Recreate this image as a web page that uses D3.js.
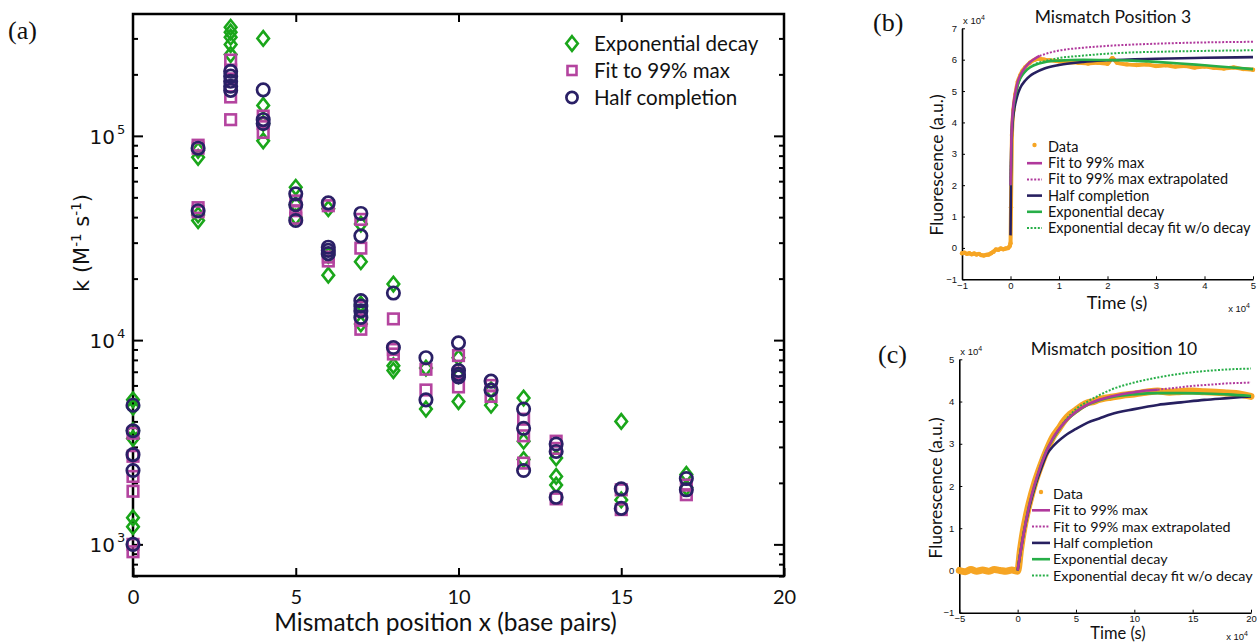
<!DOCTYPE html>
<html>
<head>
<meta charset="utf-8">
<script src="https://cdn.jsdelivr.net/npm/d3@7"></script>
<style>
  body { margin: 0; background: #fff; }
  svg { display: block; }
  text { font-family: Lato, "Open Sans", sans-serif; fill: #111; }
</style>
</head>
<body>
<svg id="fig" width="1257" height="642"></svg>
<script>
// ---------- (a) hybridisation rate constants k (M^-1 s^-1) vs mismatch position ----------
const expDecay = [
  [0,5100],[0,4700],[0,3600],[0,3300],[0,1350],[0,1220],
  [2,85000],[2,78500],[2,41000],[2,38500],
  [3,340000],[3,322000],[3,304000],[3,280000],[3,250000],
  [4,300000],[4,141000],[4,115000],[4,94500],
  [5,56000],[5,46000],[5,40000],
  [6,44000],[6,26000],[6,20800],
  [7,37000],[7,24200],[7,15000],[7,12000],
  [8,18800],[8,7500],[8,7100],
  [9,7300],[9,4600],
  [10,8200],[10,6700],[10,5000],
  [11,5700],[11,4800],
  [12,5200],[12,3200],[12,2600],
  [13,2650],[13,2150],[13,1950],
  [15,4000],[15,1650],
  [17,2200],[17,1900]
];
const fit99 = [
  [0,3500],[0,2700],[0,2150],[0,1820],[0,1000],[0,920],
  [2,90000],[2,87000],[2,44500],[2,42500],
  [3,235000],[3,210000],[3,190000],[3,175000],[3,155000],[3,120000],
  [4,125000],[4,115000],[4,104000],
  [5,48000],[5,43000],[5,39500],
  [6,45500],[6,25500],[6,24400],
  [7,39000],[7,28200],[7,14500],[7,12500],[7,11300],
  [8,12700],[8,9000],[8,8550],
  [9,7200],[9,5700],
  [10,8400],[10,6900],[10,5900],
  [11,6000],[11,5300],
  [12,4100],[12,3400],[12,2500],
  [13,3200],[13,2950],[13,1670],
  [15,1850],[15,1480],
  [17,1950],[17,1750]
];
const halfCompletion = [
  [0,4800],[0,3600],[0,2750],[0,2300],[0,1000],
  [2,87000],[2,43000],
  [3,207000],[3,196000],[3,185000],[3,175000],[3,167000],
  [4,168000],[4,120000],[4,115000],
  [5,52000],[5,46000],[5,38500],
  [6,47000],[6,28500],[6,27500],[6,26500],
  [7,41700],[7,32400],[7,15600],[7,14700],[7,13900],[7,12900],
  [8,17000],[8,9200],
  [9,8200],[9,5100],
  [10,9700],[10,7100],[10,6800],[10,6600],
  [11,6300],[11,5700],
  [12,4600],[12,3700],[12,2300],
  [13,3100],[13,2850],[13,1700],
  [15,1870],[15,1500],
  [17,2100],[17,1850]
];
const xTicksA = [0, 5, 10, 15, 20];
const yMajorA = [1e3, 1e4, 1e5];
const legendA = ["Exponential decay", "Fit to 99% max", "Half completion"];

// ---------- (b) fluorescence trace, mismatch position 3 (time and signal in units of 10^4) ----------
const dataB = [
  [-1,-0.17],[-0.95,-0.15],[-0.9,-0.19],[-0.85,-0.17],[-0.8,-0.2],[-0.75,-0.18],[-0.7,-0.21],
  [-0.65,-0.19],[-0.6,-0.23],[-0.55,-0.24],[-0.5,-0.22],[-0.45,-0.21],[-0.4,-0.17],[-0.35,-0.12],
  [-0.3,-0.05],[-0.25,-0.06],[-0.2,-0.02],[-0.15,-0.04],[-0.1,-0.02],[-0.05,0.0],[-0.02,0.05],[0,0.15],
  [0.01,1.3],[0.03,3.6],[0.06,4.4],[0.1,4.9],[0.15,5.3],[0.2,5.5],[0.25,5.65],[0.3,5.75],[0.4,5.9],
  [0.5,6.0],[0.6,6.03],[0.7,6.0],[0.8,5.98],[1.0,5.95],[1.2,5.92],[1.4,5.9],[1.6,5.88],[1.8,5.9],
  [2.0,5.87],[2.1,6.05],[2.2,5.9],[2.4,5.85],[2.6,5.83],[2.8,5.85],[3.0,5.8],[3.2,5.82],[3.4,5.78],
  [3.6,5.8],[3.8,5.75],[4.0,5.78],[4.2,5.74],[4.4,5.72],[4.6,5.75],[4.8,5.7],[5.0,5.68]
];
const fit99B = [[0,2.0],[0.02,3.6],[0.05,4.4],[0.1,4.95],[0.15,5.3],[0.2,5.5],[0.3,5.75],[0.4,5.92],[0.5,6.03],[0.6,6.12]];
const fit99ExtB = [[0.6,6.12],[0.8,6.22],[1,6.29],[1.5,6.38],[2,6.44],[2.5,6.48],[3,6.51],[4,6.55],[5,6.57]];
const halfB = [[0,0.4],[0.01,2.2],[0.02,3.2],[0.04,3.9],[0.07,4.35],[0.1,4.6],[0.15,4.9],[0.2,5.1],[0.3,5.33],
  [0.4,5.48],[0.5,5.58],[0.7,5.72],[1,5.83],[1.5,5.93],[2,5.98],[3,6.03],[4,6.06],[5,6.08]];
const expB = [[0,2.0],[0.02,3.5],[0.05,4.3],[0.1,4.85],[0.15,5.2],[0.2,5.4],[0.3,5.62],[0.4,5.75],[0.5,5.83],
  [0.7,5.92],[1,5.97],[1.5,6.0],[2,5.99],[2.5,5.97],[3,5.93],[3.5,5.88],[4,5.82],[4.5,5.76],[5,5.7]];
const expNoDecayB = [[0,2.0],[0.02,3.5],[0.05,4.3],[0.1,4.85],[0.15,5.2],[0.2,5.4],[0.3,5.62],[0.4,5.75],
  [0.5,5.85],[0.7,5.95],[1,6.05],[1.5,6.13],[2,6.19],[2.5,6.23],[3,6.25],[4,6.28],[5,6.3]];

// ---------- (c) fluorescence trace, mismatch position 10 ----------
const dataC = [
  [-5,0.0],[-4.5,-0.03],[-4,0.02],[-3.5,-0.02],[-3,0.01],[-2.5,-0.02],[-2,0.02],[-1.5,0.0],[-1,-0.02],
  [-0.5,0.01],[0,-0.02],[0.25,0.5],[0.5,0.95],[0.75,1.3],[1,1.6],[1.5,2.1],[2,2.5],[2.5,2.85],[3,3.15],
  [3.5,3.35],[4,3.55],[4.5,3.7],[5,3.8],[5.5,3.9],[6,3.97],[6.5,4.0],[7,4.05],[7.5,4.08],[8,4.1],[9,4.15],
  [10,4.18],[11,4.22],[12,4.25],[13,4.22],[14,4.24],[15,4.25],[16,4.23],[17,4.22],[18,4.2],[19,4.18],[20,4.12]
];
const fit99C = [[0,0],[0.5,0.85],[1,1.55],[2,2.5],[3,3.12],[4,3.5],[5,3.76],[6,3.93],[7,4.04],[8,4.12],
  [9,4.18],[10,4.22],[11,4.26],[12,4.28]];
const fit99ExtC = [[12,4.28],[13,4.31],[14,4.34],[15,4.37],[16,4.39],[17,4.41],[18,4.43],[19,4.44],[20,4.45]];
const halfC = [[0,0],[0.5,0.85],[1,1.5],[1.5,2.0],[2,2.4],[2.5,2.75],[3,2.93],[4,3.18],[5,3.35],[6,3.5],
  [7,3.6],[8,3.7],[10,3.82],[12,3.92],[14,3.98],[16,4.04],[18,4.08],[20,4.12]];
const expC = [[0,0],[0.5,0.85],[1,1.55],[1.5,2.05],[2,2.5],[2.5,2.85],[3,3.1],[4,3.5],[5,3.75],[6,3.92],
  [7,4.03],[8,4.1],[10,4.17],[12,4.2],[14,4.2],[16,4.19],[18,4.17],[20,4.13]];
const expNoDecayC = [[0,0],[0.5,0.85],[1,1.55],[1.5,2.05],[2,2.5],[2.5,2.85],[3,3.1],[4,3.52],[5,3.82],
  [6,4.0],[7,4.15],[8,4.28],[10,4.45],[12,4.57],[14,4.66],[16,4.72],[18,4.76],[20,4.78]];

const traceLegend = ["Data", "Fit to 99% max", "Fit to 99% max extrapolated", "Half completion",
  "Exponential decay", "Exponential decay fit w/o decay"];
const xTicksB = [-1, 0, 1, 2, 3, 4, 5];
const yTicksB = [-1, 0, 1, 2, 3, 4, 5, 6, 7];
const xTicksC = [-5, 0, 5, 10, 15, 20];
const yTicksC = [-1, 0, 1, 2, 3, 4, 5];

// ---------- styling ----------
const GREEN = '#1aa61a', MAGENTA = '#b4449f', NAVY = '#2a2066';
const ORANGE = '#f6a524', LMAG = '#b0389c', LNAVY = '#272060', LGREEN = '#27ae48';

const svg = d3.select('#fig');

// ================= panel (a) =================
const xA = d3.scaleLinear().domain([0, 20]).range([133, 784]);
const yA = d3.scaleLog().domain([700, 395000]).range([576, 14]);
const gA = svg.append('g');

function tickAxis(g, axis, transform) {
  const s = g.append('g').attr('transform', transform).call(axis);
  s.select('.domain').remove();
  s.selectAll('line').attr('stroke', '#000').attr('stroke-width', 2);
  return s;
}
const minorA = yA.ticks().filter(v => !yMajorA.includes(v));
// x ticks, bottom (with labels) and top
const bx = tickAxis(gA, d3.axisBottom(xA).tickValues(xTicksA).tickSize(-8).tickPadding(14).tickFormat(d3.format('d')),
  `translate(0,${yA.range()[0]})`);
bx.selectAll('text').attr('font-size', 20).attr('fill', '#111').style('font-family', 'Lato');
tickAxis(gA, d3.axisTop(xA).tickValues(xTicksA.slice(1, -1)).tickSize(-8).tickFormat(''), `translate(0,${yA.range()[1]})`);
// y ticks, left and right, major + minor
tickAxis(gA, d3.axisLeft(yA).tickValues(yMajorA).tickSize(-10).tickFormat(''), `translate(${xA.range()[0]},0)`);
tickAxis(gA, d3.axisLeft(yA).tickValues(minorA).tickSize(-5).tickFormat(''), `translate(${xA.range()[0]},0)`);
tickAxis(gA, d3.axisRight(yA).tickValues(yMajorA).tickSize(-10).tickFormat(''), `translate(${xA.range()[1]},0)`);
tickAxis(gA, d3.axisRight(yA).tickValues(minorA).tickSize(-5).tickFormat(''), `translate(${xA.range()[1]},0)`);
// frame
gA.append('rect').attr('x', xA.range()[0]).attr('y', yA.range()[1])
  .attr('width', xA.range()[1] - xA.range()[0]).attr('height', yA.range()[0] - yA.range()[1])
  .attr('fill', 'none').attr('stroke', '#000').attr('stroke-width', 2.5);
// power-of-ten labels
yMajorA.forEach(v => {
  gA.append('text').attr('x', 115).attr('y', yA(v) + 8).attr('text-anchor', 'end')
    .attr('font-size', 20).style('font-family', '"DejaVu Sans"').text('10');
  gA.append('text').attr('x', 117).attr('y', yA(v) - 2).attr('font-size', 13)
    .style('font-family', '"DejaVu Sans"').text(Math.round(Math.log10(v)));
});
// axis titles
gA.append('text').attr('x', 445.5).attr('y', 631).attr('text-anchor', 'middle')
  .attr('font-size', 24.5).text('Mismatch position x (base pairs)');
const yl = gA.append('text').attr('transform', 'translate(89,243) rotate(-90)').attr('text-anchor', 'middle')
  .attr('font-size', 21).style('font-family', '"DejaVu Sans"');
yl.append('tspan').text('k (M');
yl.append('tspan').attr('dy', -8).attr('font-size', 13.5).text('-1');
yl.append('tspan').attr('dy', 8).text(' s');
yl.append('tspan').attr('dy', -8).attr('font-size', 13.5).text('-1');
yl.append('tspan').attr('dy', 8).text(')');

// markers
const diamondPath = 'M0,-7.3L5.8,0L0,7.3L-5.8,0Z';
function drawDiamonds(g, data) {
  g.selectAll(null).data(data).join('path').attr('d', diamondPath)
    .attr('transform', d => `translate(${xA(d[0])},${yA(d[1])})`)
    .attr('fill', 'none').attr('stroke', GREEN).attr('stroke-width', 2.6);
}
function drawSquares(g, data) {
  g.selectAll(null).data(data).join('rect')
    .attr('x', d => xA(d[0]) - 5.3).attr('y', d => yA(d[1]) - 5.3).attr('width', 10.6).attr('height', 10.6)
    .attr('fill', 'none').attr('stroke', MAGENTA).attr('stroke-width', 2.6);
}
function drawCircles(g, data) {
  g.selectAll(null).data(data).join('circle')
    .attr('cx', d => xA(d[0])).attr('cy', d => yA(d[1])).attr('r', 6.2)
    .attr('fill', 'none').attr('stroke', NAVY).attr('stroke-width', 2.7);
}
drawDiamonds(gA.append('g'), expDecay);
drawSquares(gA.append('g'), fit99);
drawCircles(gA.append('g'), halfCompletion);

// legend
const lg = gA.append('g');
const legRows = [43.5, 70.5, 97.5];
lg.append('path').attr('d', diamondPath).attr('transform', `translate(572,${legRows[0]})`)
  .attr('fill', 'none').attr('stroke', GREEN).attr('stroke-width', 2.6);
lg.append('rect').attr('x', 572 - 4.5).attr('y', legRows[1] - 4.5).attr('width', 9).attr('height', 9)
  .attr('fill', 'none').attr('stroke', MAGENTA).attr('stroke-width', 2.6);
lg.append('circle').attr('cx', 572).attr('cy', legRows[2]).attr('r', 5.6)
  .attr('fill', 'none').attr('stroke', NAVY).attr('stroke-width', 2.7);
legendA.forEach((s, i) => lg.append('text').attr('x', 594).attr('y', legRows[i] + 7).attr('font-size', 20.5).text(s));

svg.append('text').attr('x', 8).attr('y', 39).attr('font-size', 26)
  .style('font-family', '"Liberation Serif", serif').text('(a)');

// ================= trace panels (b) and (c) =================
function tracePanel(cfg) {
  const g = svg.append('g');
  const x = d3.scaleLinear().domain(cfg.xd).range(cfg.xr);
  const y = d3.scaleLinear().domain(cfg.yd).range(cfg.yr);
  const ax = g.append('g').attr('transform', `translate(0,${cfg.yr[0]})`)
    .call(d3.axisBottom(x).tickValues(cfg.xt).tickSize(-3).tickSizeOuter(0).tickPadding(3).tickFormat(d3.format('d')));
  const ay = g.append('g').attr('transform', `translate(${cfg.xr[0]},0)`)
    .call(d3.axisLeft(y).tickValues(cfg.yt).tickSize(-3).tickSizeOuter(0).tickPadding(5).tickFormat(d3.format('d')));
  [ax, ay].forEach(a => {
    a.select('.domain').attr('stroke', '#000').attr('stroke-width', 1.6);
    a.selectAll('line').attr('stroke', '#000').attr('stroke-width', 1);
    a.selectAll('text').attr('font-size', 9.5).attr('fill', '#111').style('font-family', '"Liberation Sans"');
  });
  // exponent notes
  const e1 = g.append('text').attr('x', cfg.xr[0] + 1).attr('y', cfg.yr[1] - 4).attr('font-size', 9.5)
    .style('font-family', '"Liberation Sans"');
  e1.append('tspan').text('x 10');
  e1.append('tspan').attr('dy', -4).attr('font-size', 7).text('4');
  const e2 = g.append('text').attr('x', cfg.xr[1] - 3).attr('y', cfg.yr[0] + cfg.e2dy).attr('font-size', 9.5)
    .attr('text-anchor', 'end').style('font-family', '"Liberation Sans"');
  e2.append('tspan').text('x 10');
  e2.append('tspan').attr('dy', -4).attr('font-size', 7).text('4');

  const line = d3.line().x(d => x(d[0])).y(d => y(d[1])).curve(d3.curveMonotoneX);
  // measured trace: noisy band plus points
  g.append('path').attr('d', line(cfg.data)).attr('fill', 'none').attr('stroke', ORANGE)
    .attr('stroke-width', cfg.band).attr('stroke-linejoin', 'round').attr('stroke-linecap', 'round');
  g.selectAll(null).data(cfg.data).join('circle').attr('cx', d => x(d[0])).attr('cy', d => y(d[1]))
    .attr('r', 2.2).attr('fill', ORANGE);
  const fits = [
    [cfg.fitExt, LMAG, '2,1.6', 2],
    [cfg.expNoDecay, LGREEN, '2,1.6', 2],
    [cfg.half, LNAVY, null, 2.6],
    [cfg.exp, LGREEN, null, 2.6],
    [cfg.fit, LMAG, null, 2.6]
  ];
  fits.forEach(([d, c, dash, w]) => {
    g.append('path').attr('d', line(d)).attr('fill', 'none').attr('stroke', c)
      .attr('stroke-width', w).attr('stroke-dasharray', dash);
  });
  // legend
  const L = cfg.leg;
  const styles = [[ORANGE, 'dot'], [LMAG, null, 2.6], [LMAG, '2,1.6', 2], [LNAVY, null, 2.6],
    [LGREEN, null, 2.6], [LGREEN, '2,1.6', 2]];
  traceLegend.forEach((s, i) => {
    const yy = L.y + i * L.dy;
    const st = styles[i];
    if (st[1] === 'dot') {
      g.append('circle').attr('cx', (L.x0 + L.x1) / 2).attr('cy', yy - 2).attr('r', 2.2).attr('fill', ORANGE);
    } else {
      g.append('line').attr('x1', L.x0).attr('x2', L.x1).attr('y1', yy).attr('y2', yy)
        .attr('stroke', st[0]).attr('stroke-width', st[2]).attr('stroke-dasharray', st[1]);
    }
    g.append('text').attr('x', L.tx).attr('y', yy + 5).attr('font-size', L.fs).text(s);
  });
  // titles
  g.append('text').attr('x', cfg.titleX).attr('y', cfg.titleY).attr('text-anchor', 'middle').attr('font-size', 17.5)
    .text(cfg.title);
  g.append('text').attr('transform', `translate(${cfg.ylx},${cfg.yly}) rotate(-90)`).attr('text-anchor', 'middle')
    .attr('font-size', 17.5).text('Fluorescence (a.u.)');
  g.append('text').attr('x', cfg.xlx).attr('y', cfg.xly).attr('text-anchor', 'middle').attr('font-size', cfg.xlfs)
    .text('Time (s)');
  svg.append('text').attr('x', cfg.tagX).attr('y', cfg.tagY).attr('font-size', 26)
    .style('font-family', '"Liberation Serif", serif').text(cfg.tag);
}

tracePanel({
  xd: [-1, 5], xr: [962, 1253], yd: [-1, 7], yr: [279.3, 28.3], xt: xTicksB, yt: yTicksB,
  data: dataB, fit: fit99B, fitExt: fit99ExtB, half: halfB, exp: expB, expNoDecay: expNoDecayB, band: 4,
  leg: { x0: 1027, x1: 1042, tx: 1048, y: 147, dy: 16.2, fs: 14.5 }, e2dy: 33,
  title: 'Mismatch Position 3', titleX: 1113, titleY: 23, ylx: 943, yly: 165, xlx: 1117, xly: 309, xlfs: 18,
  tag: '(b)', tagX: 873, tagY: 31
});
tracePanel({
  xd: [-5, 20], xr: [959.3, 1251], yd: [-1, 5], yr: [612.7, 359.3], xt: xTicksC, yt: yTicksC,
  data: dataC, fit: fit99C, fitExt: fit99ExtC, half: halfC, exp: expC, expNoDecay: expNoDecayC, band: 7,
  leg: { x0: 1032, x1: 1050, tx: 1053, y: 494, dy: 16.3, fs: 14.3 }, e2dy: 27,
  title: 'Mismatch position 10', titleX: 1114, titleY: 355, ylx: 942, yly: 488, xlx: 1118, xly: 639, xlfs: 16.5,
  tag: '(c)', tagX: 878, tagY: 363
});
</script>
</body>
</html>
